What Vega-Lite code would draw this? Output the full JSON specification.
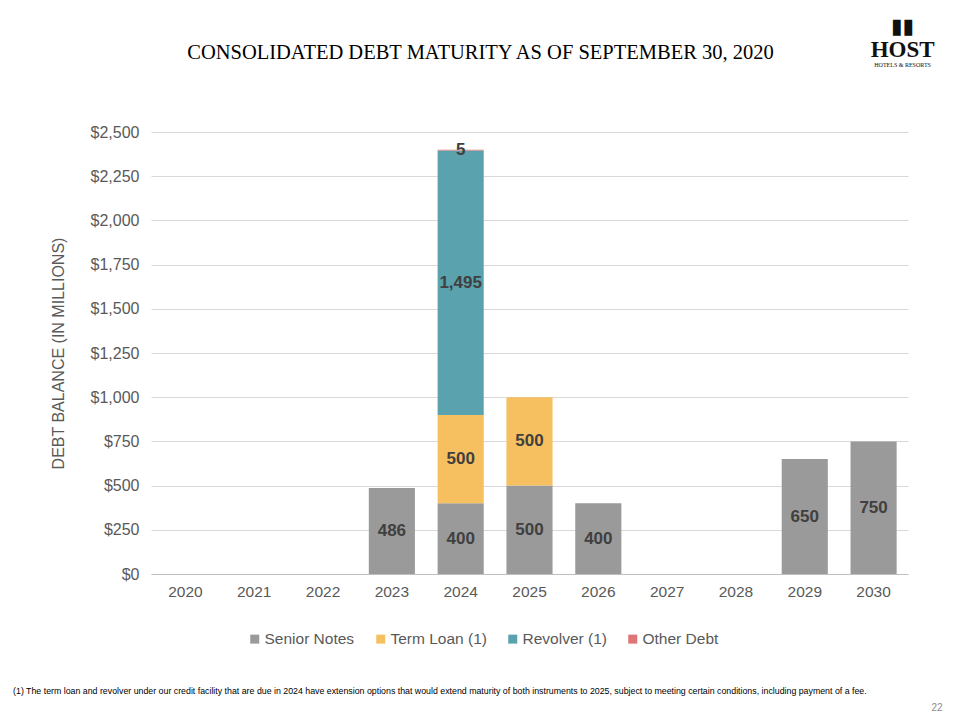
{
  "$schema": "https://vega.github.io/schema/vega-lite/v6.json",
  "background": "white",
  "padding": {"left": 13, "top": 16, "right": 5, "bottom": 5},
  "config": {"view": {"stroke": null}, "font": "Liberation Sans"},
  "title": {"text": "22", "orient": "bottom", "anchor": "end", "frame": "bounds", "fontSize": 10, "font": "Liberation Sans", "fontWeight": "normal", "color": "#8c8c8c", "offset": 7, "dx": 8},
  "resolve": {"scale": {"color": "independent"}, "legend": {"color": "independent"}},
  "vconcat": [
    {
      "title": {"text": "(1)   The term loan and revolver under our credit facility that are due in 2024 have extension options that would extend maturity of both instruments to 2025, subject to meeting certain conditions, including payment of a fee.", "orient": "bottom", "anchor": "start", "frame": "bounds", "fontSize": 8.8, "font": "Liberation Sans", "fontWeight": "normal", "color": "#000000", "offset": 39, "dx": -37},
      "resolve": {"scale": {"color": "independent"}, "legend": {"color": "independent"}},
      "vconcat": [
        {
          "width": 757,
          "height": 442,
          "title": {"text": "CONSOLIDATED DEBT MATURITY AS OF SEPTEMBER 30, 2020", "font": "Liberation Serif", "fontSize": 20.5, "fontWeight": "normal", "color": "#000000", "anchor": "middle", "frame": "group", "dx": -49, "offset": -47},
          "layer": [
            {
              "data": {"values": [
                {"year": "2023", "series": "Senior Notes", "amount": 486},
                {"year": "2024", "series": "Senior Notes", "amount": 400},
                {"year": "2024", "series": "Term Loan (1)", "amount": 500},
                {"year": "2024", "series": "Revolver (1)", "amount": 1495},
                {"year": "2024", "series": "Other Debt", "amount": 5},
                {"year": "2025", "series": "Senior Notes", "amount": 500},
                {"year": "2025", "series": "Term Loan (1)", "amount": 500},
                {"year": "2026", "series": "Senior Notes", "amount": 400},
                {"year": "2029", "series": "Senior Notes", "amount": 650},
                {"year": "2030", "series": "Senior Notes", "amount": 750}
              ]},
              "transform": [
                {"calculate": "indexof(['Senior Notes','Term Loan (1)','Revolver (1)','Other Debt'], datum.series)", "as": "ord"},
                {"stack": "amount", "groupby": ["year"], "sort": [{"field": "ord", "order": "ascending"}], "as": ["y0", "y1"]},
                {"calculate": "(datum.y0 + datum.y1) / 2", "as": "ymid"}
              ],
              "layer": [
                {
                  "mark": {"type": "bar"},
                  "encoding": {
                    "x": {"field": "year", "type": "ordinal",
                      "scale": {"domain": ["2020","2021","2022","2023","2024","2025","2026","2027","2028","2029","2030"], "paddingInner": 0.33, "paddingOuter": 0.165},
                      "axis": {"title": null, "labelAngle": 0, "labelFontSize": 15.5, "labelColor": "#595959", "labelPadding": 10, "ticks": false, "domainColor": "#bfbfbf", "domainWidth": 1}},
                    "y": {"field": "y0", "type": "quantitative",
                      "scale": {"domain": [0, 2500], "nice": false},
                      "axis": {"title": "DEBT BALANCE (IN MILLIONS)", "titleFontSize": 16, "titleFontWeight": "normal", "titleColor": "#595959", "titlePadding": 24,
                        "values": [0,250,500,750,1000,1250,1500,1750,2000,2250,2500], "format": "$,.0f",
                        "labelFontSize": 16, "labelColor": "#595959", "labelPadding": 12, "ticks": false, "domain": false,
                        "gridColor": "#d9d9d9", "gridWidth": 1}},
                    "y2": {"field": "y1"},
                    "color": {"field": "series", "type": "nominal",
                      "scale": {"domain": ["Senior Notes","Term Loan (1)","Revolver (1)","Other Debt"], "range": ["#9a9a9a","#f6bf5f","#5ba2af","#e07575"]},
                      "legend": {"title": null, "orient": "none", "legendX": 96, "legendY": 499, "direction": "horizontal", "symbolType": "square", "symbolSize": 81, "symbolStrokeWidth": 0, "labelFontSize": 15.5, "labelColor": "#595959", "columnPadding": 18, "labelOffset": 2}}
                  }
                },
                {
                  "mark": {"type": "text", "fontSize": 17, "fontWeight": "bold", "color": "#404040", "baseline": "middle", "align": "center"},
                  "encoding": {
                    "x": {"field": "year", "type": "ordinal"},
                    "y": {"field": "ymid", "type": "quantitative"},
                    "text": {"field": "amount", "type": "quantitative", "format": ",.0f"}
                  }
                }
              ]
            },
            {
              "data": {"values": [{"label": "▮▮"}]},
              "mark": {"type": "text", "font": "DejaVu Sans", "fontSize": 21, "color": "#111111", "align": "center", "baseline": "middle", "dx": 29},
              "encoding": {"x": {"datum": "2030"}, "y": {"datum": 3093}, "text": {"field": "label"}}
            },
            {
              "data": {"values": [{"label": "HOST"}]},
              "mark": {"type": "text", "font": "Liberation Serif", "fontSize": 23, "fontWeight": "bold", "color": "#111111", "align": "center", "baseline": "middle", "dx": 29},
              "encoding": {"x": {"datum": "2030"}, "y": {"datum": 2963}, "text": {"field": "label"}}
            },
            {
              "data": {"values": [{"label": "HOTELS & RESORTS"}]},
              "mark": {"type": "text", "font": "Liberation Serif", "fontSize": 6, "color": "#111111", "align": "center", "baseline": "middle", "dx": 29},
              "encoding": {"x": {"datum": "2030"}, "y": {"datum": 2880}, "text": {"field": "label"}}
            }
          ]
        }
      ]
    }
  ]
}
